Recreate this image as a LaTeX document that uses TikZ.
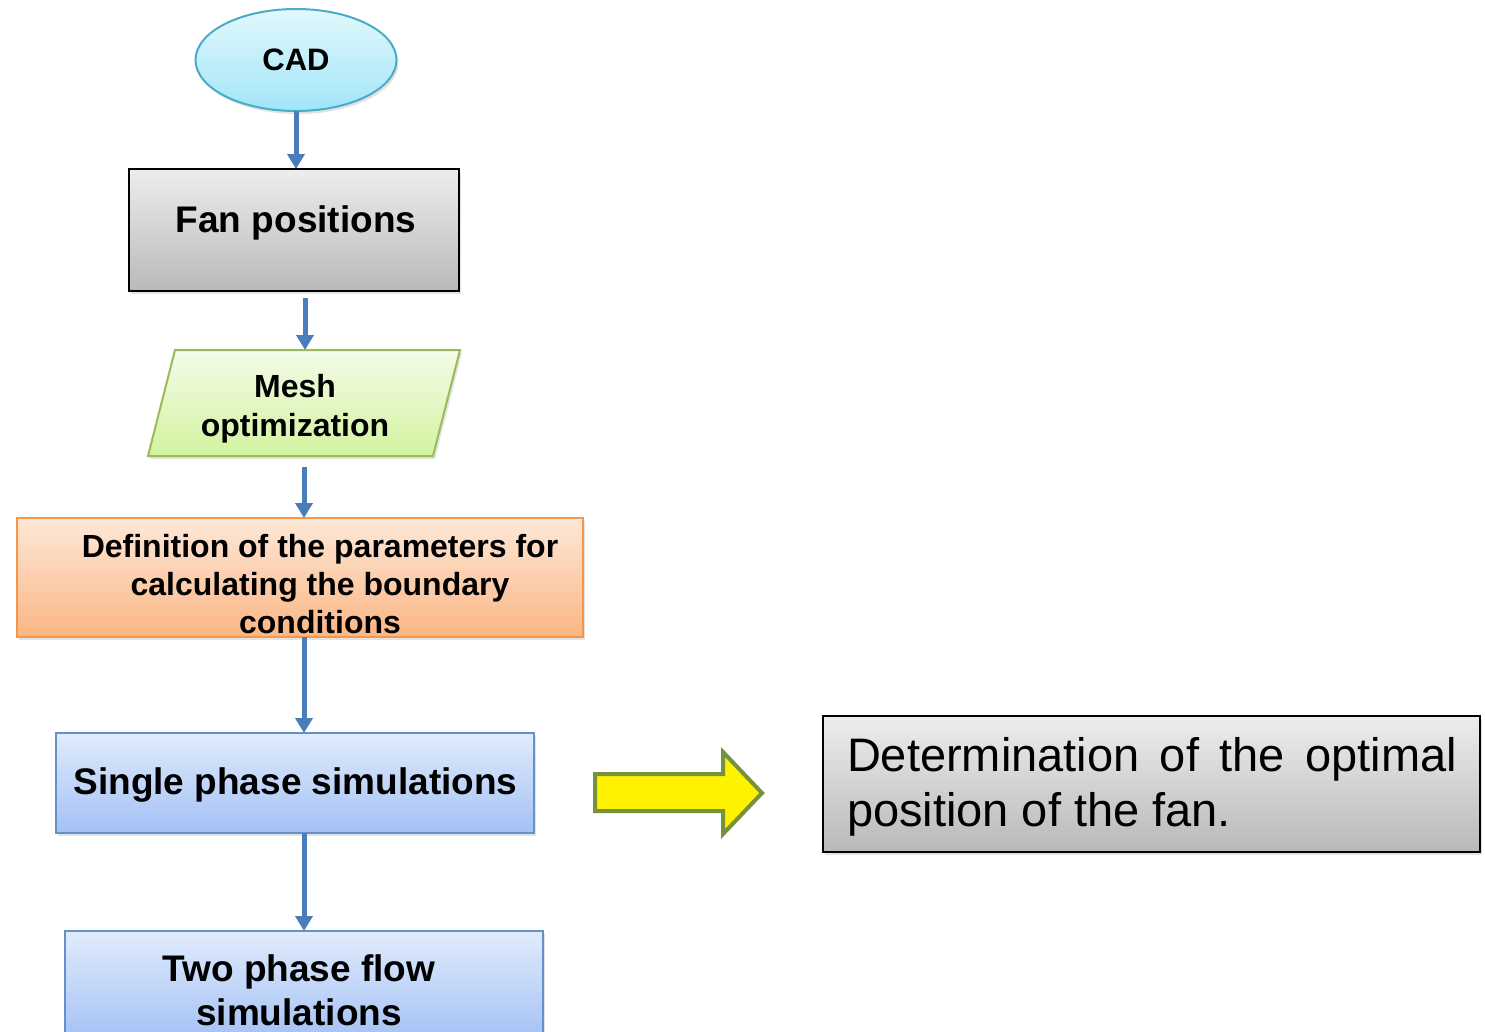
\documentclass[tikz,border=0pt]{standalone}
\usepackage{fontspec}
\setmainfont{Liberation Sans}
\usetikzlibrary{shapes.geometric,arrows.meta,shadows}
\definecolor{arrowblue}{HTML}{4A7EBB}
\definecolor{cadtop}{HTML}{E2F8FD}
\definecolor{cadbot}{HTML}{A2E5F9}
\definecolor{cadline}{HTML}{4BACC6}
\definecolor{graytop}{HTML}{EDEDED}
\definecolor{graybot}{HTML}{B9B9B9}
\definecolor{greentop}{HTML}{F3FCE8}
\definecolor{greenbot}{HTML}{D3F3A0}
\definecolor{greenline}{HTML}{9BBB59}
\definecolor{orangetop}{HTML}{FDE8D8}
\definecolor{orangebot}{HTML}{FBB684}
\definecolor{orangeline}{HTML}{F79646}
\definecolor{bluetop}{HTML}{E1EBFC}
\definecolor{bluebot}{HTML}{A3C1F5}
\definecolor{blueline}{HTML}{6690CC}
\definecolor{olive}{HTML}{76923C}
\tikzset{
  shad/.style={drop shadow={opacity=0.22,shadow xshift=2pt,shadow yshift=-3pt}},
  box/.style={rectangle,inner sep=0pt,outer sep=0pt,line width=2pt,shad},
  graybox/.style={box,draw=black,top color=graytop,bottom color=graybot},
  orangebox/.style={box,draw=orangeline,top color=orangetop,bottom color=orangebot},
  bluebox/.style={box,draw=blueline,top color=bluetop,bottom color=bluebot},
  lbl/.style={inner sep=0pt,align=center,font=\fontsize{37}{44}\selectfont\bfseries},
  lblsmall/.style={inner sep=0pt,align=center,font=\fontsize{32}{38.5}\selectfont\bfseries},
  conn/.style={draw=arrowblue,line width=5pt,-{Triangle[width=17pt,length=15pt]}},
}
\begin{document}
\begin{tikzpicture}[x=1pt,y=-1pt]
\useasboundingbox (0,0) rectangle (1485,1031);
\fill[white] (0,0) rectangle (1485,1031);
\clip (0,0) rectangle (1485,1031);

% CAD ellipse
\node[ellipse,minimum width=201pt,minimum height=102pt,inner sep=0pt,outer sep=0pt,
      line width=2pt,draw=cadline,top color=cadtop,bottom color=cadbot,shad,
      font=\fontsize{31}{36}\selectfont\bfseries] (cad) at (296,60) {CAD};

% Fan positions
\node[graybox,minimum width=330pt,minimum height=122pt] (fan) at (294,230) {};
\node[lbl] (fantext) at (296,223) {Fan positions};

% Mesh optimization (parallelogram)
\filldraw[line width=2pt,draw=greenline,top color=greentop,bottom color=greenbot,shad]
  (175,350) -- (460,350) -- (433,456) -- (148,456) -- cycle;
\node[lblsmall] (mesh) at (295,408.5) {Mesh\\optimization};
\coordinate (meshtop) at (305,350);
\coordinate (meshbot) at (304,467);

% Definition box
\node[orangebox,minimum width=566pt,minimum height=119pt] (def) at (300,577.5) {};
\node[lblsmall,font=\fontsize{32}{38}\selectfont\bfseries] (deftext) at (320,584)
  {Definition of the parameters for\\calculating the boundary\\conditions};

% Single phase
\node[bluebox,minimum width=478pt,minimum height=100pt] (single) at (295,783) {};
\node[lbl] (singletext) at (295.5,785.5) {Single phase simulations};

% Two phase
\node[bluebox,minimum width=478pt,minimum height=110pt] (two) at (304,986) {};
\node[lbl] (twotext) at (299,990) {Two phase flow\\simulations};

% Connectors
\draw[conn] (cad.south) -- (cad.south |- fan.north);
\draw[conn] ([xshift=11pt,yshift=-7pt]fan.south) -- (meshtop);
\draw[conn] (meshbot) -- (meshbot |- def.north);
\draw[conn] ([xshift=4pt]def.south) -- ([xshift=4pt]def.south |- single.north);
\draw[conn] ([xshift=9pt]single.south) -- ([xshift=9pt]single.south |- two.north);

% Yellow block arrow
\filldraw[fill=yellow,draw=olive,line width=4pt,line join=miter]
  (595,774) -- (723,774) -- (723,752) -- (762,793) -- (723,834) -- (723,811) -- (595,811) -- cycle;

% Result box
\node[graybox,minimum width=657pt,minimum height=136pt] (det) at (1151.5,784) {};
\node[inner sep=0pt,text width=610pt,align=justify,
      font=\fontsize{47}{55}\selectfont] (dettext) at (1152,787)
  {Determination of the optimal\linebreak position of the fan.};
\end{tikzpicture}
\end{document}
